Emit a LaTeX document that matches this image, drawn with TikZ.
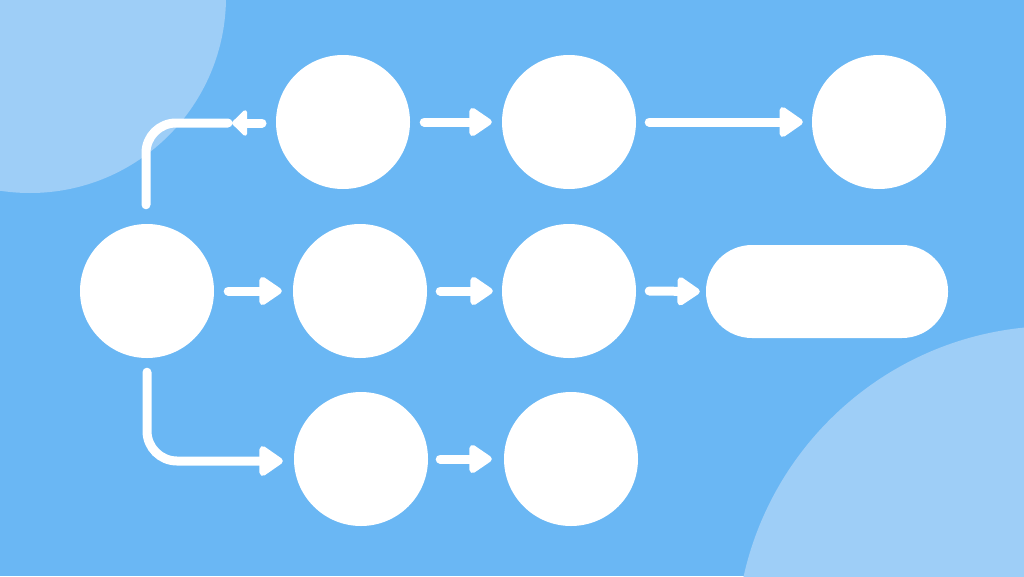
\documentclass[tikz,border=0pt]{standalone}
\usetikzlibrary{arrows.meta}
\definecolor{bgblue}{RGB}{106,183,244}
\definecolor{lightblue}{RGB}{158,206,247}
\tikzset{
  bubble/.style={circle, fill=white, draw=none, minimum size=134pt, inner sep=0pt},
  pill/.style={rectangle, fill=white, draw=none, minimum width=242pt, minimum height=93pt, rounded corners=46pt, inner sep=0pt},
  arr/.style={draw=white, line width=9pt, line cap=round, line join=round,
    -{Triangle[length=25pt,width=32pt,round]}},
  bigarr/.style={arr, -{Triangle[length=26pt,width=34pt,round]}},
  plain/.style={draw=white, line width=9pt, line cap=round, line join=round},
}
\begin{document}
\begin{tikzpicture}[x=1pt,y=-1pt]
\useasboundingbox (0,0) rectangle (1024,576);
\begin{scope}
\clip (0,0) rectangle (1024,576);
\fill[bgblue] (0,0) rectangle (1024,576);
\fill[lightblue] (30,-3) circle (196pt);
\fill[lightblue] (1056,646) circle (320pt);
\end{scope}

% nodes
\node[bubble] (A)  at (147,291) {};
\node[bubble] (B1) at (343,122) {};
\node[bubble] (B2) at (569,122) {};
\node[bubble] (B3) at (879,122) {};
\node[bubble] (C1) at (360,291) {};
\node[bubble] (C2) at (569,291) {};
\node[pill]   (C3) at (827,291.5) {};
\node[bubble] (D1) at (361,459) {};
\node[bubble] (D2) at (571,459) {};

% helper coordinates
\coordinate (tcorner) at (146,123);
\coordinate (tend) at (228,123);
\coordinate (tstub) at (262,123);
\coordinate (ttip) at (232,123);
\coordinate (bcorner) at (147,461);

% top branch (line and the small left-pointing head)
\draw[plain, rounded corners=30pt] ([yshift=19pt]A.north -| tcorner) -- (tcorner) -- (tend);
\draw[arr, -{Triangle[length=16pt,width=30pt,round]}] (tstub) -- (ttip);

% bottom branch
\draw[arr, rounded corners=30pt, -{Triangle[length=26pt,width=34pt,round]}] ([yshift=-14pt]A.south) -- (bcorner) -- ([xshift=-11pt]D1.west |- bcorner);

% straight arrows
\draw[arr] ([xshift=14pt]B1.east) -- ([xshift=-10pt]B2.west);
\draw[bigarr] ([xshift=13pt]B2.east) -- ([xshift=-9pt]B3.west);
\draw[arr] ([xshift=14pt]A.east) -- ([xshift=-11pt]C1.west);
\draw[arr] ([xshift=13pt]C1.east) -- ([xshift=-9pt]C2.west);
\draw[arr] ([xshift=13pt]C2.east) -- ([xshift=-6pt]C3.west);
\draw[arr] ([xshift=12pt]D1.east) -- ([xshift=-12pt]D2.west |- D1.east);
\end{tikzpicture}
\end{document}
